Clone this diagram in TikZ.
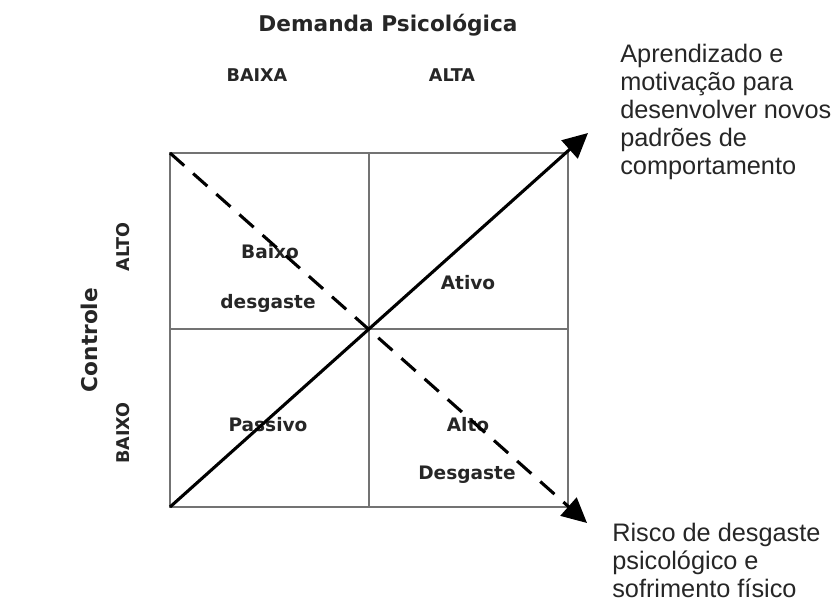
\documentclass[tikz,border=0pt]{standalone}
\usepackage{fontspec}
\setmainfont{Liberation Sans}
\newfontfamily\vfont{DejaVu Sans}
\usetikzlibrary{arrows.meta}

\tikzset{
  axis title/.style={font=\vfont\bfseries\fontsize{15.4}{18}\selectfont, text=black!85},
  lbl/.style={font=\vfont\bfseries\fontsize{12.5}{14}\selectfont, text=black!85},
  quad/.style={font=\vfont\bfseries\fontsize{13.2}{15}\selectfont, text=black!85},
  note/.style={font=\fontsize{18}{19.9}\selectfont, align=left, anchor=north west, inner sep=0pt, text=black!85},
  frame/.style={draw=black!55, line width=1.1pt},
  bigarrow/.style={line width=2.2pt, -{Triangle[length=0.62cm, width=0.6cm]}},
}

\begin{document}
\begin{tikzpicture}[x=0.025cm, y=-0.025cm]
\useasboundingbox (0,0) rectangle (832,606);
\def\xl{170}
\def\xm{369}
\def\xr{568}
\def\yt{153}
\def\ym{329}
\def\yb{507}

% quadrant frame
\coordinate (nw) at (\xl,\yt);
\coordinate (se) at (\xr,\yb);
\coordinate (sw) at (\xl,\yb);
\draw[frame] (nw) rectangle (se);
\draw[frame] (\xm,\yt) -- (\xm,\yb);
\draw[frame] (\xl,\ym) -- (\xr,\ym);

% axis labels
\node[axis title] (dem) at (388,25) {Demanda Psicológica};
\node[lbl] (baixa) at (257,75) {BAIXA};
\node[lbl] (alta) at (452,75) {ALTA};
\node[axis title, rotate=90] (ctrl) at (89,340) {Controle};
\node[lbl, rotate=90] (alto) at (123,247) {ALTO};
\node[lbl, rotate=90] (baixo) at (123,433) {BAIXO};

% quadrants
\node[quad] (bx) at (270,252) {Baixo};
\node[quad] (bxd) at (268,303) {desgaste};
\node[quad] (ativo) at (468,283) {Ativo};
\node[quad] (pass) at (268,425) {Passivo};
\node[quad] (al) at (468,425) {Alto};
\node[quad] (ald) at (467,475) {Desgaste};

% notes
\node[note] (apr) at (620,44) {Aprendizado e\\motivação para\\desenvolver novos\\padrões de\\comportamento};
\node[note] (risco) at (612,523) {Risco de desgaste\\psicológico e\\sofrimento físico};

% arrows
\coordinate (up) at (588,133);
\coordinate (down) at (587,523);
\draw[bigarrow] (sw) -- (up);
\draw[bigarrow, dash pattern=on 13.5pt off 8.5pt] (nw) -- (down);
\end{tikzpicture}
\end{document}
